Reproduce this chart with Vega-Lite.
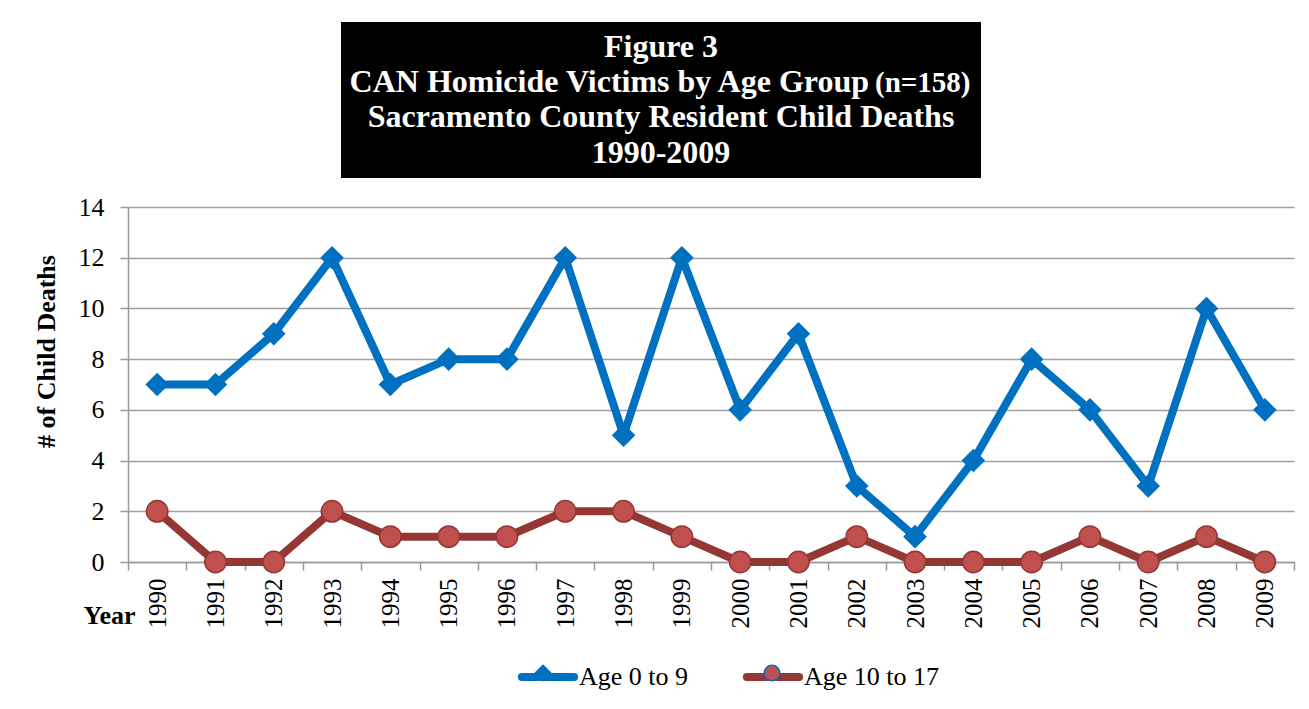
{
  "$schema": "https://vega.github.io/schema/vega-lite/v6.json",
  "padding": {"left": 33, "top": 22, "right": 10, "bottom": 0},
  "background": "white",
  "config": {"font": "Liberation Serif", "view": {"stroke": null}},
  "center": false,
  "spacing": 16,
  "resolve": {
    "scale": {"stroke": "independent", "fill": "independent", "shape": "independent"},
    "legend": {"stroke": "independent", "fill": "independent", "shape": "independent"}
  },
  "vconcat": [
    {
      "spacing": 0,
      "hconcat": [
        {
          "width": 213,
          "height": 156,
          "data": {"values": [{"k": 1}]},
          "mark": {"type": "text", "text": ""}
        },
        {
          "width": 640,
          "height": 156,
          "data": {"values": [{"k": 1}]},
          "layer": [
            {"mark": {"type": "rect", "color": "black"}},
            {
              "mark": {"type": "text", "color": "white", "font": "Liberation Serif", "fontWeight": "bold", "fontSize": 32, "baseline": "alphabetic", "align": "center", "dy": -43},
              "encoding": {"text": {"value": "Figure 3"}}
            },
            {
              "mark": {"type": "text", "color": "white", "font": "Liberation Serif", "fontWeight": "bold", "fontSize": 32, "baseline": "alphabetic", "align": "right", "dx": 208, "dy": -8},
              "encoding": {"text": {"value": "CAN Homicide Victims by Age Group"}}
            },
            {
              "mark": {"type": "text", "color": "white", "font": "Liberation Serif", "fontWeight": "bold", "fontSize": 29, "baseline": "alphabetic", "align": "left", "dx": 214, "dy": -8},
              "encoding": {"text": {"value": "(n=158)"}}
            },
            {
              "mark": {"type": "text", "color": "white", "font": "Liberation Serif", "fontWeight": "bold", "fontSize": 32, "baseline": "alphabetic", "align": "center", "dy": 27},
              "encoding": {"text": {"value": "Sacramento County Resident Child Deaths"}}
            },
            {
              "mark": {"type": "text", "color": "white", "font": "Liberation Serif", "fontWeight": "bold", "fontSize": 32, "baseline": "alphabetic", "align": "center", "dy": 63},
              "encoding": {"text": {"value": "1990-2009"}}
            }
          ]
        }
      ]
    },
    {
      "width": 1166,
      "height": 355,
      "data": {"values": [
        {"year": 1990, "series": "Age 0 to 9", "deaths": 7},
        {"year": 1991, "series": "Age 0 to 9", "deaths": 7},
        {"year": 1992, "series": "Age 0 to 9", "deaths": 9},
        {"year": 1993, "series": "Age 0 to 9", "deaths": 12},
        {"year": 1994, "series": "Age 0 to 9", "deaths": 7},
        {"year": 1995, "series": "Age 0 to 9", "deaths": 8},
        {"year": 1996, "series": "Age 0 to 9", "deaths": 8},
        {"year": 1997, "series": "Age 0 to 9", "deaths": 12},
        {"year": 1998, "series": "Age 0 to 9", "deaths": 5},
        {"year": 1999, "series": "Age 0 to 9", "deaths": 12},
        {"year": 2000, "series": "Age 0 to 9", "deaths": 6},
        {"year": 2001, "series": "Age 0 to 9", "deaths": 9},
        {"year": 2002, "series": "Age 0 to 9", "deaths": 3},
        {"year": 2003, "series": "Age 0 to 9", "deaths": 1},
        {"year": 2004, "series": "Age 0 to 9", "deaths": 4},
        {"year": 2005, "series": "Age 0 to 9", "deaths": 8},
        {"year": 2006, "series": "Age 0 to 9", "deaths": 6},
        {"year": 2007, "series": "Age 0 to 9", "deaths": 3},
        {"year": 2008, "series": "Age 0 to 9", "deaths": 10},
        {"year": 2009, "series": "Age 0 to 9", "deaths": 6},
        {"year": 1990, "series": "Age 10 to 17", "deaths": 2},
        {"year": 1991, "series": "Age 10 to 17", "deaths": 0},
        {"year": 1992, "series": "Age 10 to 17", "deaths": 0},
        {"year": 1993, "series": "Age 10 to 17", "deaths": 2},
        {"year": 1994, "series": "Age 10 to 17", "deaths": 1},
        {"year": 1995, "series": "Age 10 to 17", "deaths": 1},
        {"year": 1996, "series": "Age 10 to 17", "deaths": 1},
        {"year": 1997, "series": "Age 10 to 17", "deaths": 2},
        {"year": 1998, "series": "Age 10 to 17", "deaths": 2},
        {"year": 1999, "series": "Age 10 to 17", "deaths": 1},
        {"year": 2000, "series": "Age 10 to 17", "deaths": 0},
        {"year": 2001, "series": "Age 10 to 17", "deaths": 0},
        {"year": 2002, "series": "Age 10 to 17", "deaths": 1},
        {"year": 2003, "series": "Age 10 to 17", "deaths": 0},
        {"year": 2004, "series": "Age 10 to 17", "deaths": 0},
        {"year": 2005, "series": "Age 10 to 17", "deaths": 0},
        {"year": 2006, "series": "Age 10 to 17", "deaths": 1},
        {"year": 2007, "series": "Age 10 to 17", "deaths": 0},
        {"year": 2008, "series": "Age 10 to 17", "deaths": 1},
        {"year": 2009, "series": "Age 10 to 17", "deaths": 0}
      ]},
      "encoding": {
        "x": {
          "field": "year", "type": "ordinal",
          "scale": {"type": "band", "paddingInner": 0, "paddingOuter": 0},
          "axis": {
            "title": "Year", "labelAngle": -90, "labelFont": "Liberation Serif", "labelFontSize": 25, "labelColor": "black",
            "labelPadding": 8, "tickBand": "extent", "tickSize": 8, "tickColor": "#999999", "tickWidth": 1.5,
            "domainColor": "#999999", "domainWidth": 1.5, "grid": false,
            "titleX": -45, "titleY": 61, "titleAlign": "left", "titleBaseline": "alphabetic", "titleAngle": 0,
            "titleFont": "Liberation Serif", "titleFontSize": 26, "titleFontWeight": "bold", "titleColor": "black"
          }
        },
        "y": {
          "field": "deaths", "type": "quantitative",
          "scale": {"domain": [0, 14], "nice": false},
          "axis": {
            "title": "# of Child Deaths", "values": [0, 2, 4, 6, 8, 10, 12, 14], "grid": true, "gridColor": "#A0A0A0", "gridWidth": 1.5,
            "tickSize": 8, "tickColor": "#999999", "tickWidth": 1.5, "domainColor": "#999999", "domainWidth": 1.5,
            "labelFont": "Liberation Serif", "labelFontSize": 26, "labelColor": "black", "labelPadding": 16,
            "titleFont": "Liberation Serif", "titleFontSize": 26, "titleFontWeight": "bold", "titleColor": "black",
            "titlePadding": 19, "titleY": 144
          }
        }
      },
      "layer": [
        {
          "mark": {"type": "line", "strokeWidth": 8, "strokeJoin": "round", "strokeCap": "round"},
          "encoding": {
            "stroke": {
              "field": "series", "type": "nominal",
              "scale": {"domain": ["Age 0 to 9", "Age 10 to 17"], "range": ["#0070C0", "#953735"]},
              "legend": {
                "orient": "none", "legendX": 386, "legendY": 436, "direction": "horizontal", "title": null,
                "symbolType": "M-0.87,0H0.87", "symbolSize": 3600, "symbolStrokeWidth": 8,
                "labelFont": "Liberation Serif", "labelFontSize": 26, "labelColor": "black", "labelOffset": -3,
                "columnPadding": 41, "padding": 0, "zindex": 1,
                "encode": {"symbols": {"update": {"strokeCap": {"value": "round"}}}}
              }
            }
          }
        },
        {
          "mark": {"type": "point", "filled": true, "opacity": 1, "size": 460, "strokeWidth": 1.5},
          "encoding": {
            "shape": {
              "field": "series", "type": "nominal",
              "scale": {"range": ["diamond", "circle"]},
              "legend": {
                "orient": "none", "legendX": 402, "legendY": 453, "direction": "horizontal", "title": null,
                "symbolSize": 240, "labelOpacity": 0,
                "labelFont": "Liberation Serif", "labelFontSize": 26, "labelOffset": 2,
                "columnPadding": 91, "padding": 0, "zindex": 2,
                "encode": {"symbols": {"update": {"stroke": [{"test": "datum.value === 'Age 10 to 17'", "value": "#953735"}, {"value": "#0070C0"}], "strokeWidth": {"value": 1.2}}}}
              }
            },
            "fill": {
              "field": "series", "type": "nominal",
              "scale": {"range": ["#0070C0", "#C0504D"]},
              "legend": {
                "orient": "none", "legendX": 402, "legendY": 453, "direction": "horizontal", "title": null,
                "symbolSize": 240, "labelOpacity": 0,
                "labelFont": "Liberation Serif", "labelFontSize": 26, "labelOffset": 2,
                "columnPadding": 91, "padding": 0, "zindex": 2,
                "encode": {"symbols": {"update": {"stroke": [{"test": "datum.value === 'Age 10 to 17'", "value": "#953735"}, {"value": "#0070C0"}], "strokeWidth": {"value": 1.2}}}}
              }
            },
            "stroke": {"condition": {"test": "datum.series === 'Age 10 to 17'", "value": "#953735"}, "value": "#0070C0"}
          }
        }
      ]
    }
  ]
}
